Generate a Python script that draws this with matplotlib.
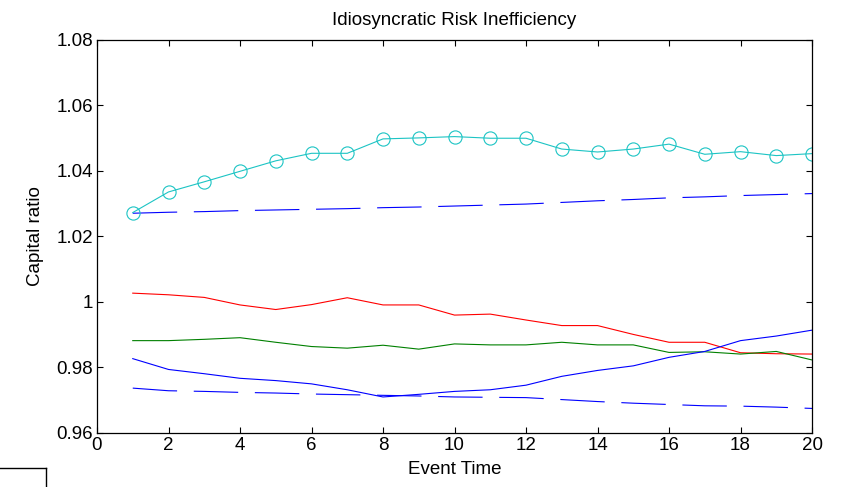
import numpy as np
import matplotlib.pyplot as plt
from matplotlib.lines import Line2D

plt.rcParams['font.family'] = ['Liberation Sans', 'DejaVu Sans']

event_time = list(range(1, 21))

# cyan line with circles
ineff = [1.0273, 1.0336, 1.0367, 1.0399, 1.0431, 1.0454, 1.0454, 1.0498, 1.0501, 1.0505,
         1.0500, 1.0500, 1.0467, 1.0458, 1.0467, 1.0482, 1.0451, 1.0459, 1.0447, 1.0453]
# upper dashed band
upper = [1.0271, 1.0274, 1.0276, 1.0279, 1.0281, 1.0283, 1.0285, 1.0288, 1.0290, 1.0293,
         1.0296, 1.0299, 1.0304, 1.0309, 1.0313, 1.0318, 1.0321, 1.0325, 1.0328, 1.0331]
# lower dashed band
lower = [0.9737, 0.9729, 0.9727, 0.9724, 0.9722, 0.9719, 0.9717, 0.9715, 0.9713, 0.9710,
         0.9709, 0.9708, 0.9702, 0.9696, 0.9691, 0.9687, 0.9683, 0.9682, 0.9679, 0.9675]
red_line = [1.0027, 1.0022, 1.0014, 0.9991, 0.9977, 0.9992, 1.0013, 0.9991, 0.9991, 0.9960,
            0.9963, 0.9945, 0.9928, 0.9928, 0.9901, 0.9877, 0.9877, 0.9845, 0.9842, 0.9841]
green_line = [0.9882, 0.9882, 0.9886, 0.9891, 0.9877, 0.9864, 0.9859, 0.9868, 0.9856, 0.9872,
              0.9869, 0.9869, 0.9877, 0.9869, 0.9869, 0.9846, 0.9848, 0.9841, 0.9849, 0.9823]
blue_line = [0.9827, 0.9794, 0.9781, 0.9767, 0.9760, 0.9750, 0.9732, 0.9710, 0.9718, 0.9727,
             0.9732, 0.9746, 0.9773, 0.9791, 0.9805, 0.9831, 0.9849, 0.9882, 0.9896, 0.9914]

fig = plt.figure(figsize=(8.42, 4.87), dpi=100)
ax = fig.add_axes([0.1152, 0.1109, 0.8492, 0.8070])

dash = (40, 15)
ax.plot(event_time, upper, color='#0000ff', lw=0.8, dashes=dash)
ax.plot(event_time, lower, color='#0000ff', lw=0.8, dashes=dash)
ax.plot(event_time, red_line, color='#ff0000', lw=0.8)
ax.plot(event_time, green_line, color='#008000', lw=0.8)
ax.plot(event_time, blue_line, color='#0000ff', lw=0.8)
ax.plot(event_time, ineff, color='#1cc4c4', lw=0.8, marker='o', ms=9.5,
        mfc='none', mec='#1cc4c4', mew=0.8)

ax.set_xlim(0, 20)
ax.set_ylim(0.96, 1.08)
ax.set_xticks(np.arange(0, 21, 2))
ax.set_yticks(np.arange(0.96, 1.0801, 0.02))
ax.set_yticklabels(['0.96', '0.98', '1', '1.02', '1.04', '1.06', '1.08'])
ax.tick_params(direction='in', length=4, width=0.8, top=True, right=True,
               labelsize=13.5, pad=3)
for s in ax.spines.values():
    s.set_linewidth(0.9)

ax.set_title('Idiosyncratic Risk Inefficiency', fontsize=13.5, pad=11)
ax.set_xlabel('Event Time', fontsize=13.5, labelpad=5)
ax.set_ylabel('Capital ratio', fontsize=13.5, labelpad=9)

# stray box fragment at bottom-left corner
fig.add_artist(Line2D([0, 0.0546], [0.039, 0.039], color='black', lw=1))
fig.add_artist(Line2D([0.0546, 0.0546], [0, 0.039], color='black', lw=1))

fig.savefig('out.png', dpi=100, facecolor='white')
